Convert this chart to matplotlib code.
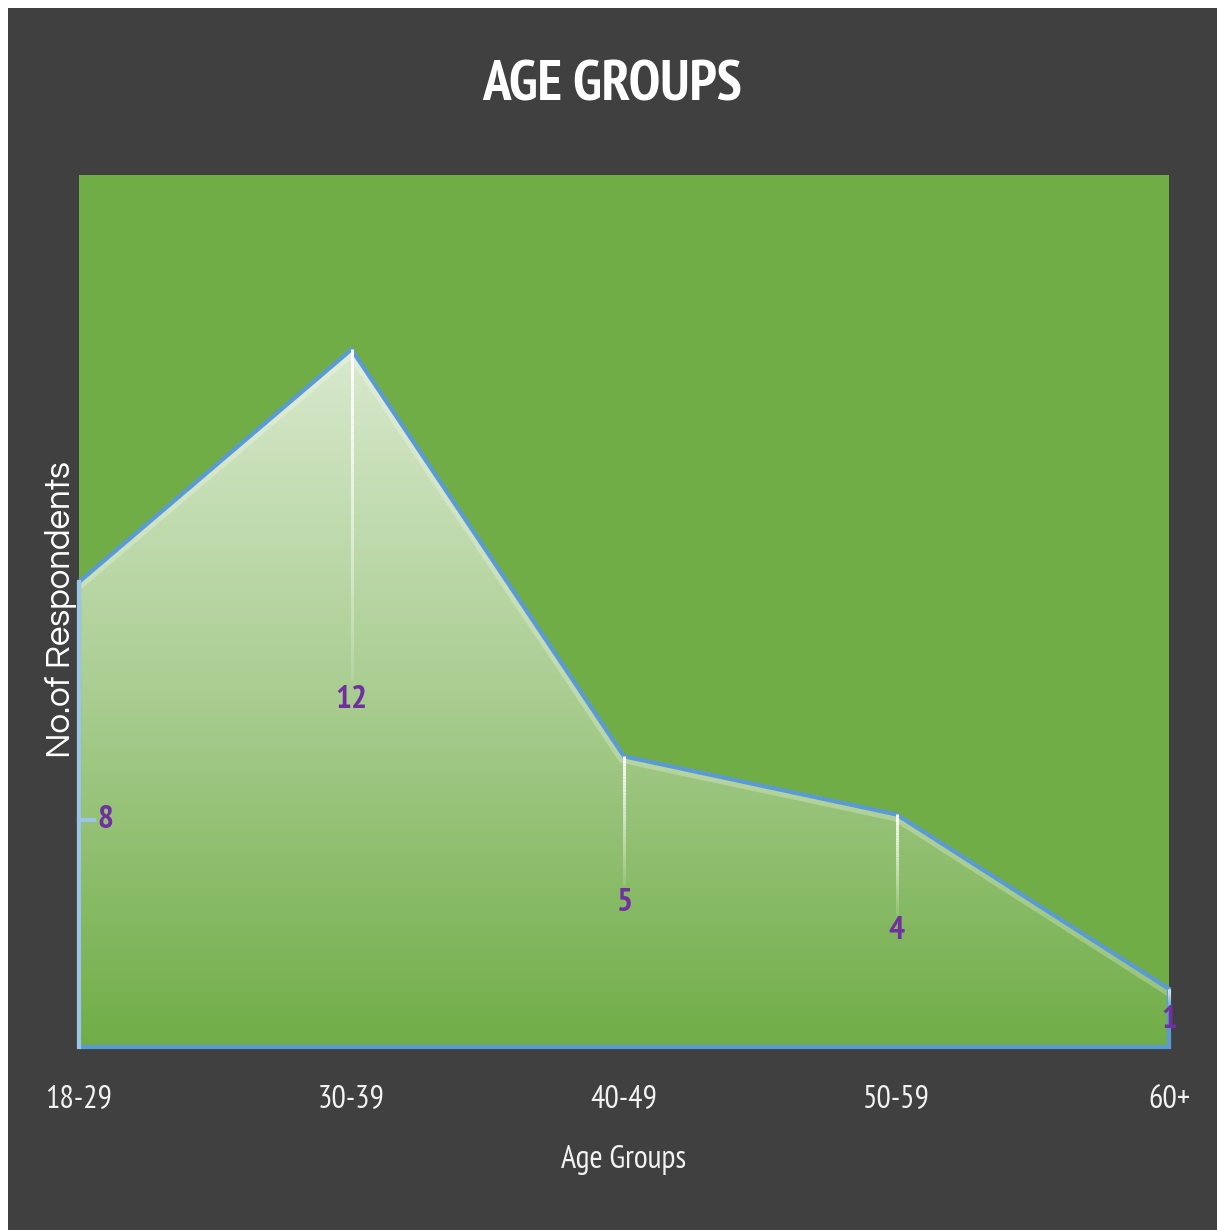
import numpy as np
import matplotlib
matplotlib.use('Agg')
import matplotlib.pyplot as plt
from matplotlib.patches import Polygon, Rectangle
from matplotlib.colors import LinearSegmentedColormap

# data
age_groups = ["18-29", "30-39", "40-49", "50-59", "60+"]
respondents = [8, 12, 5, 4, 1]

# label placement (x offset, label y, leader end y) in data units
label_pos = [(0.095, 3.90, None), (0, 5.97, 6.31), (0, 2.48, 2.79), (0, 2.0, 2.27), (0, 0.46, 0.72)]

narrow = ['PT Sans Narrow', 'DejaVu Sans']
gothic = ['Questrial', 'DejaVu Sans']
panel = '#404040'
green = '#70AD47'
blue = '#5B9BD5'
purple = '#7030A0'

fig = plt.figure(figsize=(12.17, 12.30), dpi=100, facecolor='white')
fig.patches.append(Rectangle((8 / 1217, 0), 1, (1230 - 8) / 1230, transform=fig.transFigure,
                             facecolor=panel, edgecolor='none', zorder=-10))

ax = fig.add_axes([79 / 1217, 183 / 1230, 1090 / 1217, 872 / 1230])
ax.set_facecolor(green)
x = np.arange(len(age_groups))
y = np.array(respondents, dtype=float)
ax.set_xlim(0, len(age_groups) - 1)
ax.set_ylim(0, 15)

# gradient filled area
verts = [(x[0], 0)] + list(zip(x, y)) + [(x[-1], 0)]
poly = Polygon(verts, closed=True, facecolor='none', edgecolor='none')
ax.add_patch(poly)
cmap = LinearSegmentedColormap.from_list('g', ['#d8e9cd', '#a9cd90', green])
grad = np.linspace(0, 1, 256).reshape(-1, 1)
im = ax.imshow(grad, cmap=cmap, extent=(x[0], x[-1], 0, y.max()), origin='upper',
               aspect='auto', zorder=2)
im.set_clip_path(poly)

# soft inner highlight along the top edge
glow, = ax.plot(x, y, color='white', lw=10, alpha=0.25, zorder=3, solid_joinstyle='miter')
glow.set_clip_path(poly)

# outline
outline = Polygon(verts, closed=True, facecolor='none', edgecolor=blue, lw=3,
                  zorder=4, clip_on=False, joinstyle='miter')
ax.add_patch(outline)
ax.plot([x[0], x[0]], [y[0], 0], color='#9DC3E6', lw=3, zorder=4, clip_on=False)

# leader lines fading downward + labels
for i, (dx, ly, lend) in enumerate(label_pos):
    if lend is not None:
        n = 40
        ys = np.linspace(y[i], lend, n + 1)
        for k in range(n):
            a = 1.0 - 0.9 * k / n
            ax.plot([x[i], x[i]], [ys[k], ys[k + 1]], color='white', lw=2.2, alpha=a,
                    zorder=5, solid_capstyle='butt', clip_on=False)
    else:
        ax.plot([x[i], x[i] + 0.055], [ly, ly], color='#9DC3E6', lw=3, zorder=5, clip_on=False)
    ax.text(x[i] + dx, ly, str(respondents[i]), color=purple, fontsize=24, fontweight='bold',
            family=narrow, ha='center', va='center', zorder=6)

for s in ax.spines.values():
    s.set_visible(False)
ax.set_yticks([])
ax.set_xticks(x)
ax.set_xticklabels(age_groups, family=narrow, fontsize=23, color='#f2f2f2')
ax.tick_params(axis='x', length=0, pad=27)

ax.set_xlabel("Age Groups", family=narrow, fontsize=23, color='#f2f2f2', labelpad=22)
fig.text(61 / 1217, (1230 - 610) / 1230, "No.of Respondents", rotation=90, color='white',
         fontsize=25, fontweight='bold', ha='center', va='center', family=gothic)
fig.text(612 / 1217, (1230 - 86) / 1230, "AGE GROUPS", color='white', fontsize=41,
         fontweight='bold', family=narrow, ha='center', va='center')

fig.savefig('out.png', dpi=100, facecolor=fig.get_facecolor())
